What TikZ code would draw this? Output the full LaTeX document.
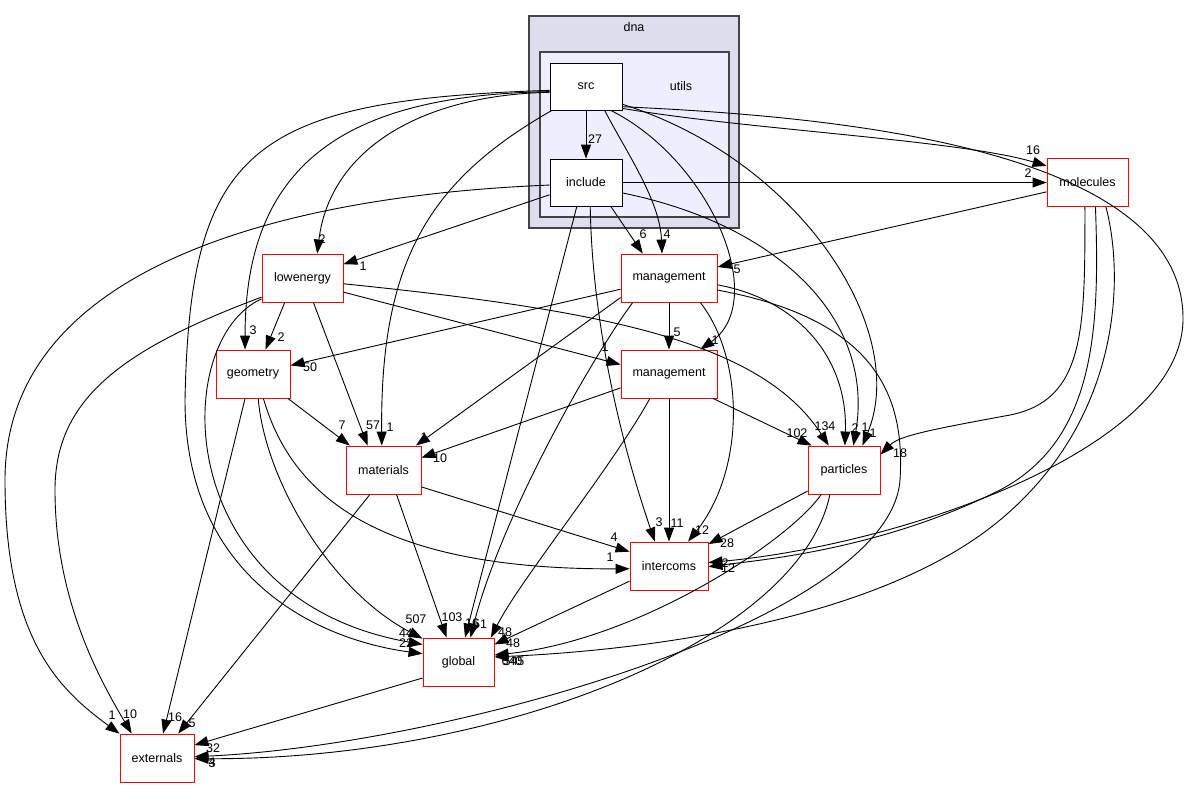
\documentclass[tikz,border=0pt]{standalone}
\usepackage{fontspec}
\setmainfont{Liberation Sans}
\usetikzlibrary{arrows.meta}
\definecolor{dnafill}{HTML}{DDDDEE}
\definecolor{utilsfill}{HTML}{EEEEFF}
\definecolor{clusterline}{HTML}{444444}
\begin{document}
\begin{tikzpicture}
			[x=1pt,y=-1pt,font=\fontsize{12.5}{15}\selectfont,
			cluster/.style={rectangle,draw=clusterline,line width=1.1pt,inner sep=0pt},
			leafbox/.style={rectangle,draw=black,line width=0.9pt,fill=white,minimum width=72pt,minimum height=47pt,inner sep=0pt},
			dirbox/.style={rectangle,draw=red,line width=0.9pt,fill=white,minimum height=48pt,inner sep=0pt},
			lbl/.style={inner sep=0pt},
			depline/.style={->,line width=0.9pt},
			>={Triangle[length=14pt,width=10pt]}]
			\useasboundingbox (0,0) rectangle (1190,788);
			\node[cluster,fill=dnafill,minimum width=210pt,minimum height=212pt,name=dna] at (634,122) {};
			\node[cluster,fill=utilsfill,minimum width=189pt,minimum height=165pt,name=utils] at (634.5,134.5) {};
			\node[lbl,name=dnatxt] at (634,27) {dna};
			\node[lbl,name=utilstxt] at (681,86) {utils};
			\node[leafbox,name=src] at (586,86.5) {src};
			\node[leafbox,name=include] at (586,182.5) {include};
			\node[dirbox,minimum width=81pt,name=molecules] at (1087.5,182.5) {molecules};
			\node[dirbox,minimum width=81pt,name=lowenergy] at (302.5,278) {lowenergy};
			\node[dirbox,minimum width=96pt,name=mgmta] at (669,278) {management};
			\node[dirbox,minimum width=74pt,name=geometry] at (253,374) {geometry};
			\node[dirbox,minimum width=96pt,name=mgmtb] at (669,374) {management};
			\node[dirbox,minimum width=75pt,name=materials] at (383.5,470) {materials};
			\node[dirbox,minimum width=72pt,name=particles] at (844,470) {particles};
			\node[dirbox,minimum width=78pt,name=intercoms] at (669,566) {intercoms};
			\node[dirbox,minimum width=71pt,name=global] at (458.5,662) {global};
			\node[dirbox,minimum width=74pt,name=externals] at (157,758) {externals};
			% src
			\draw[depline](src)--(include);
			\draw[depline](src.189) .. controls (420,95) and (330,150) .. (lowenergy.59);
			\draw[depline](src.188) .. controls (350,95) and (245,160) .. (geometry.108);
			\draw[depline](src.186) .. controls (250,100) and (190,150) .. (185,400) .. controls (185,580) and (320,640) .. (global.167);
			\draw[depline](src.215) .. controls (430,180) and (380,260) .. (materials.94);
			\draw[depline](src.308) .. controls (625,150) and (660,200) .. (mgmta.106);
			\draw[depline](src.316) .. controls (710,160) and (770,300) .. (mgmtb.38);
			\draw[depline](src.334) .. controls (800,160) and (910,330) .. (particles.53);
			\draw[depline](src.329) .. controls (750,130) and (960,140) .. (molecules.158);
			\draw[depline](src.331) .. controls (800,115) and (1185,140) .. (1183,320) .. controls (1181,450) and (900,545) .. (intercoms.5);
			% include
			\draw[depline](include)--(molecules);
			\draw[depline](include)--(lowenergy);
			\draw[depline](include.184) .. controls (300,195) and (5,260) .. (5,480) .. controls (5,640) and (60,690) .. (externals.147);
			\draw[depline](include.249)--(global.75);
			\draw[depline](include.280) .. controls (592,320) and (620,440) .. (intercoms.120);
			\draw[depline](include.316)--(mgmta.137);
			\draw[depline](include.344) .. controls (780,225) and (875,320) .. (particles.69);
			% molecules
			\draw[depline](molecules)--(mgmta);
			\draw[depline](molecules.264) .. controls (1085,330) and (1085,400) .. (1010,415) .. controls (940,428) and (900,435) .. (particles.23);
			\draw[depline](molecules.288) .. controls (1100,330) and (1095,440) .. (1000,490) .. controls (880,550) and (760,560) .. (intercoms.-1);
			\draw[depline](molecules.307) .. controls (1125,280) and (1120,420) .. (1000,520) .. controls (880,620) and (650,650) .. (global.8);
			% lowenergy
			\draw[depline](lowenergy.234)--(geometry.63);
			\draw[depline](lowenergy.294)--(materials.123);
			\draw[depline](lowenergy.341)--(mgmtb.169);
			\draw[depline](lowenergy.352) .. controls (600,310) and (760,340) .. (particles.122);
			\draw[depline](lowenergy.205) .. controls (120,350) and (55,400) .. (55,490) .. controls (55,600) and (100,680) .. (externals.136);
			\draw[depline](lowenergy.207) .. controls (170,340) and (170,600) .. (global.154);
			% management
			\draw[depline](mgmta)--(geometry);
			\draw[depline](mgmta)--(mgmtb);
			\draw[depline](mgmta.202)--(materials.37);
			\draw[depline](mgmta.214) .. controls (590,360) and (500,520) .. (global.64);
			\draw[depline](mgmta.322) .. controls (745,360) and (745,470) .. (intercoms.52);
			\draw[depline](mgmta.352) .. controls (800,300) and (848,360) .. (particles.88);
			\draw[depline](mgmta.346) .. controls (880,320) and (905,400) .. (900,480) .. controls (890,620) and (450,745) .. (externals.2);
			% geometry
			\draw[depline](geometry.325)--(materials.144);
			\draw[depline](geometry.282) .. controls (265,480) and (330,590) .. (global.147);
			\draw[depline](geometry.293) .. controls (290,490) and (370,570) .. (intercoms.184);
			\draw[depline](geometry.252)--(externals.76);
			% second management
			\draw[depline](mgmtb.196)--(materials.18);
			\draw[depline](mgmtb.331)--(particles.143);
			\draw[depline](mgmtb)--(intercoms);
			\draw[depline](mgmtb.232) .. controls (610,470) and (520,580) .. (global.37);
			% materials
			\draw[depline](materials.336)--(intercoms.160);
			\draw[depline](materials.298)--(global.116);
			\draw[depline](materials.241)--(externals.49);
			% particles
			\draw[depline](particles.210)--(intercoms.29);
			\draw[depline](particles.227) .. controls (790,540) and (640,640) .. (global.11);
			\draw[depline](particles.240) .. controls (800,640) and (500,760) .. (externals.-1);
			% intercoms, global
			\draw[depline](intercoms.201)--(global.26);
			\draw[depline](global.204)--(externals.19);
			% labels
			\node[lbl,name=l1] at (595,139) {27};
			\node[lbl,name=l2] at (322,239) {2};
			\node[lbl,name=l3] at (253,330) {3};
			\node[lbl,name=l4] at (406,643) {22};
			\node[lbl,name=l5] at (390,427) {1};
			\node[lbl,name=l6] at (667,234) {4};
			\node[lbl,name=l7] at (715,340) {1};
			\node[lbl,name=l8] at (873,433) {1};
			\node[lbl,name=l9] at (1033,150) {16};
			\node[lbl,name=l10] at (725,563) {2};
			\node[lbl,name=l11] at (1028,173) {2};
			\node[lbl,name=l12] at (363,266) {1};
			\node[lbl,name=l13] at (112,715) {1};
			\node[lbl,name=l14] at (472,623) {16};
			\node[lbl,name=l15] at (659,522) {3};
			\node[lbl,name=l16] at (643,234) {6};
			\node[lbl,name=l17] at (865,427) {1};
			\node[lbl,name=l18] at (737,269) {5};
			\node[lbl,name=l19] at (900,453) {18};
			\node[lbl,name=l20] at (728,568) {12};
			\node[lbl,name=l21] at (512,661) {640};
			\node[lbl,name=l22] at (281,337) {2};
			\node[lbl,name=l23] at (373,425) {57};
			\node[lbl,name=l24] at (605,347) {1};
			\node[lbl,name=l25] at (825,426) {134};
			\node[lbl,name=l26] at (130,714) {10};
			\node[lbl,name=l27] at (406,633) {44};
			\node[lbl,name=l28] at (310,367) {50};
			\node[lbl,name=l29] at (677,332) {5};
			\node[lbl,name=l30] at (424,437) {1};
			\node[lbl,name=l31] at (480,624) {51};
			\node[lbl,name=l32] at (702,530) {12};
			\node[lbl,name=l33] at (855,428) {2};
			\node[lbl,name=l34] at (212,762) {4};
			\node[lbl,name=l35] at (342,425) {7};
			\node[lbl,name=l36] at (416,619) {507};
			\node[lbl,name=l37] at (610,557) {1};
			\node[lbl,name=l38] at (175,717) {16};
			\node[lbl,name=l39] at (440,458) {10};
			\node[lbl,name=l40] at (797,433) {102};
			\node[lbl,name=l41] at (677,523) {11};
			\node[lbl,name=l42] at (505,632) {48};
			\node[lbl,name=l43] at (614,537) {4};
			\node[lbl,name=l44] at (452,617) {103};
			\node[lbl,name=l45] at (192,723) {5};
			\node[lbl,name=l46] at (727,543) {28};
			\node[lbl,name=l47] at (514,661) {545};
			\node[lbl,name=l48] at (212,763) {3};
			\node[lbl,name=l49] at (513,643) {48};
			\node[lbl,name=l50] at (213,748) {32};
		\end{tikzpicture}
\end{document}
